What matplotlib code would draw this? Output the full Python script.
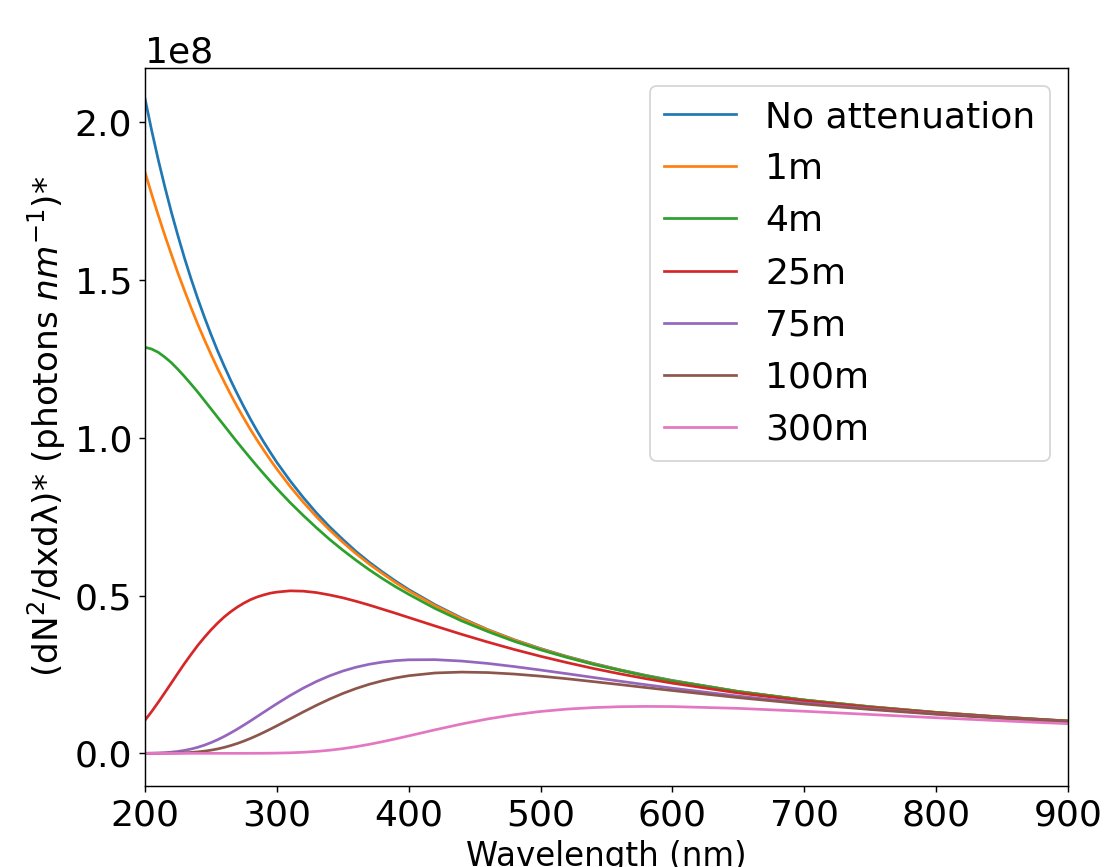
import matplotlib
matplotlib.use("Agg")
import matplotlib.pyplot as plt
import numpy as np

# Wavelength grid (nm)
wavelength = [200, 205, 210, 215, 220, 225, 230, 235, 240, 245, 250, 255, 260, 265,
              270, 275, 280, 285, 290, 295, 300, 310, 320, 330, 340, 350, 360, 370,
              380, 390, 400, 420, 440, 460, 480, 500, 520, 540, 560, 580, 600, 650,
              700, 750, 800, 850, 900]

# Values in units of 1e8 photons nm^-1
no_att = [2.075, 1.975, 1.882, 1.796, 1.715, 1.640, 1.569, 1.503, 1.441, 1.383,
          1.328, 1.276, 1.228, 1.182, 1.139, 1.098, 1.059, 1.022, 0.987, 0.954,
          0.922, 0.864, 0.811, 0.762, 0.718, 0.678, 0.640, 0.606, 0.575, 0.546,
          0.519, 0.471, 0.429, 0.392, 0.360, 0.332, 0.307, 0.285, 0.265, 0.247,
          0.231, 0.196, 0.169, 0.148, 0.130, 0.115, 0.1025]
att_1m = [1.842, 1.7725, 1.706, 1.642, 1.581, 1.5217, 1.466, 1.4117, 1.360, 1.3114,
          1.265, 1.220, 1.178, 1.137, 1.098, 1.0615, 1.026, 0.9927, 0.961, 0.930,
          0.901, 0.846, 0.796, 0.750, 0.708, 0.669, 0.633, 0.600, 0.570, 0.541,
          0.515, 0.468, 0.427, 0.391, 0.359, 0.331, 0.306, 0.284, 0.264, 0.246,
          0.230, 0.196, 0.169, 0.1475, 0.1296, 0.1149, 0.1025]
att_4m = [1.287, 1.2813, 1.271, 1.2557, 1.238, 1.2168, 1.194, 1.1698, 1.145, 1.1185,
          1.092, 1.0654, 1.039, 1.0123, 0.986, 0.9603, 0.935, 0.9101, 0.886, 0.8622,
          0.839, 0.795, 0.754, 0.715, 0.678, 0.644, 0.612, 0.582, 0.554, 0.528,
          0.504, 0.459, 0.420, 0.386, 0.355, 0.328, 0.304, 0.282, 0.263, 0.245,
          0.229, 0.1956, 0.1689, 0.1472, 0.1295, 0.1147, 0.1024]
att_25m = [0.105, 0.1322, 0.1615, 0.1921, 0.223, 0.2543, 0.285, 0.3139, 0.342, 0.3673,
           0.391, 0.4125, 0.432, 0.4487, 0.4635, 0.4761, 0.487, 0.4955, 0.502, 0.5076,
           0.511, 0.515, 0.514, 0.5095, 0.502, 0.493, 0.482, 0.470, 0.457, 0.444,
           0.4305, 0.4036, 0.3774, 0.3526, 0.3292, 0.3076, 0.2876, 0.269, 0.2521, 0.2365,
           0.2223, 0.1912, 0.1661, 0.1454, 0.1282, 0.1139, 0.1018]
att_75m = [0.0003, 0.0006, 0.0012, 0.0022, 0.0038, 0.0061, 0.0094, 0.0137, 0.0192, 0.0259,
           0.0339, 0.0431, 0.0534, 0.0647, 0.0768, 0.0896, 0.1029, 0.1165, 0.1302, 0.1438,
           0.1573, 0.1831, 0.2067, 0.2277, 0.2457, 0.2608, 0.2729, 0.2823, 0.2891, 0.2938,
           0.2964, 0.2969, 0.2925, 0.2849, 0.2750, 0.2640, 0.2524, 0.2405, 0.2288, 0.2174,
           0.2065, 0.1813, 0.1596, 0.1411, 0.1253, 0.1118, 0.1003]
att_100m = [0.0000, 0.0000, 0.0001, 0.0002, 0.0005, 0.0010, 0.0017, 0.0029, 0.0046, 0.0069,
            0.0100, 0.0139, 0.0188, 0.0246, 0.0313, 0.0389, 0.0473, 0.0565, 0.0663, 0.0766,
            0.0872, 0.1091, 0.1311, 0.1522, 0.1719, 0.1897, 0.2053, 0.2188, 0.2299, 0.2390,
            0.2460, 0.2547, 0.2575, 0.2560, 0.2513, 0.2446, 0.2364, 0.2273, 0.2180, 0.2084,
            0.1990, 0.1765, 0.1564, 0.1390, 0.1238, 0.1108, 0.0996]
att_300m = [0.0, 0.0, 0.0, 0.0, 0.0, 0.0, 0.0, 0.0, 0.0, 0.0,
            0.0, 0.0, 0.0, 0.0, 0.0, 0.0001, 0.0001, 0.0002, 0.0003, 0.0005,
            0.0008, 0.0017, 0.0034, 0.0061, 0.0099, 0.0149, 0.0211, 0.0285, 0.0368, 0.0458,
            0.0553, 0.0746, 0.0929, 0.1091, 0.1224, 0.1327, 0.1402, 0.1450, 0.1478, 0.1487,
            0.1482, 0.1425, 0.1334, 0.1231, 0.1128, 0.1030, 0.0939]

series = [no_att, att_1m, att_4m, att_25m, att_75m, att_100m, att_300m]
labels = ["No attenuation", "1m", "4m", "25m", "75m", "100m", "300m"]

DPI = 130
fig = plt.figure(figsize=(1107 / DPI, 867 / DPI), dpi=DPI)
ax = fig.add_axes([145 / 1107, 1 - 786 / 867, (1068 - 145) / 1107, (786 - 67.5) / 867])

wl = np.array(wavelength)
for vals, lab in zip(series, labels):
    ax.plot(wl, np.array(vals) * 1e8, label=lab, lw=1.5)

ax.set_xlim(200, 900)
ax.set_ylim(-0.1035e8, 2.1735e8)
ax.set_yticks([0, 0.5e8, 1.0e8, 1.5e8, 2.0e8])
ax.tick_params(labelsize=20)
ax.yaxis.get_offset_text().set_fontsize(20)
ax.set_xlabel("Wavelength (nm)", fontsize=18)
ax.set_ylabel(r"(dN$^2$/dxdλ)* (photons $nm^{-1}$)*", fontsize=19)
ax.legend(loc="upper right", fontsize=20)

fig.savefig("out.png", dpi=DPI)
